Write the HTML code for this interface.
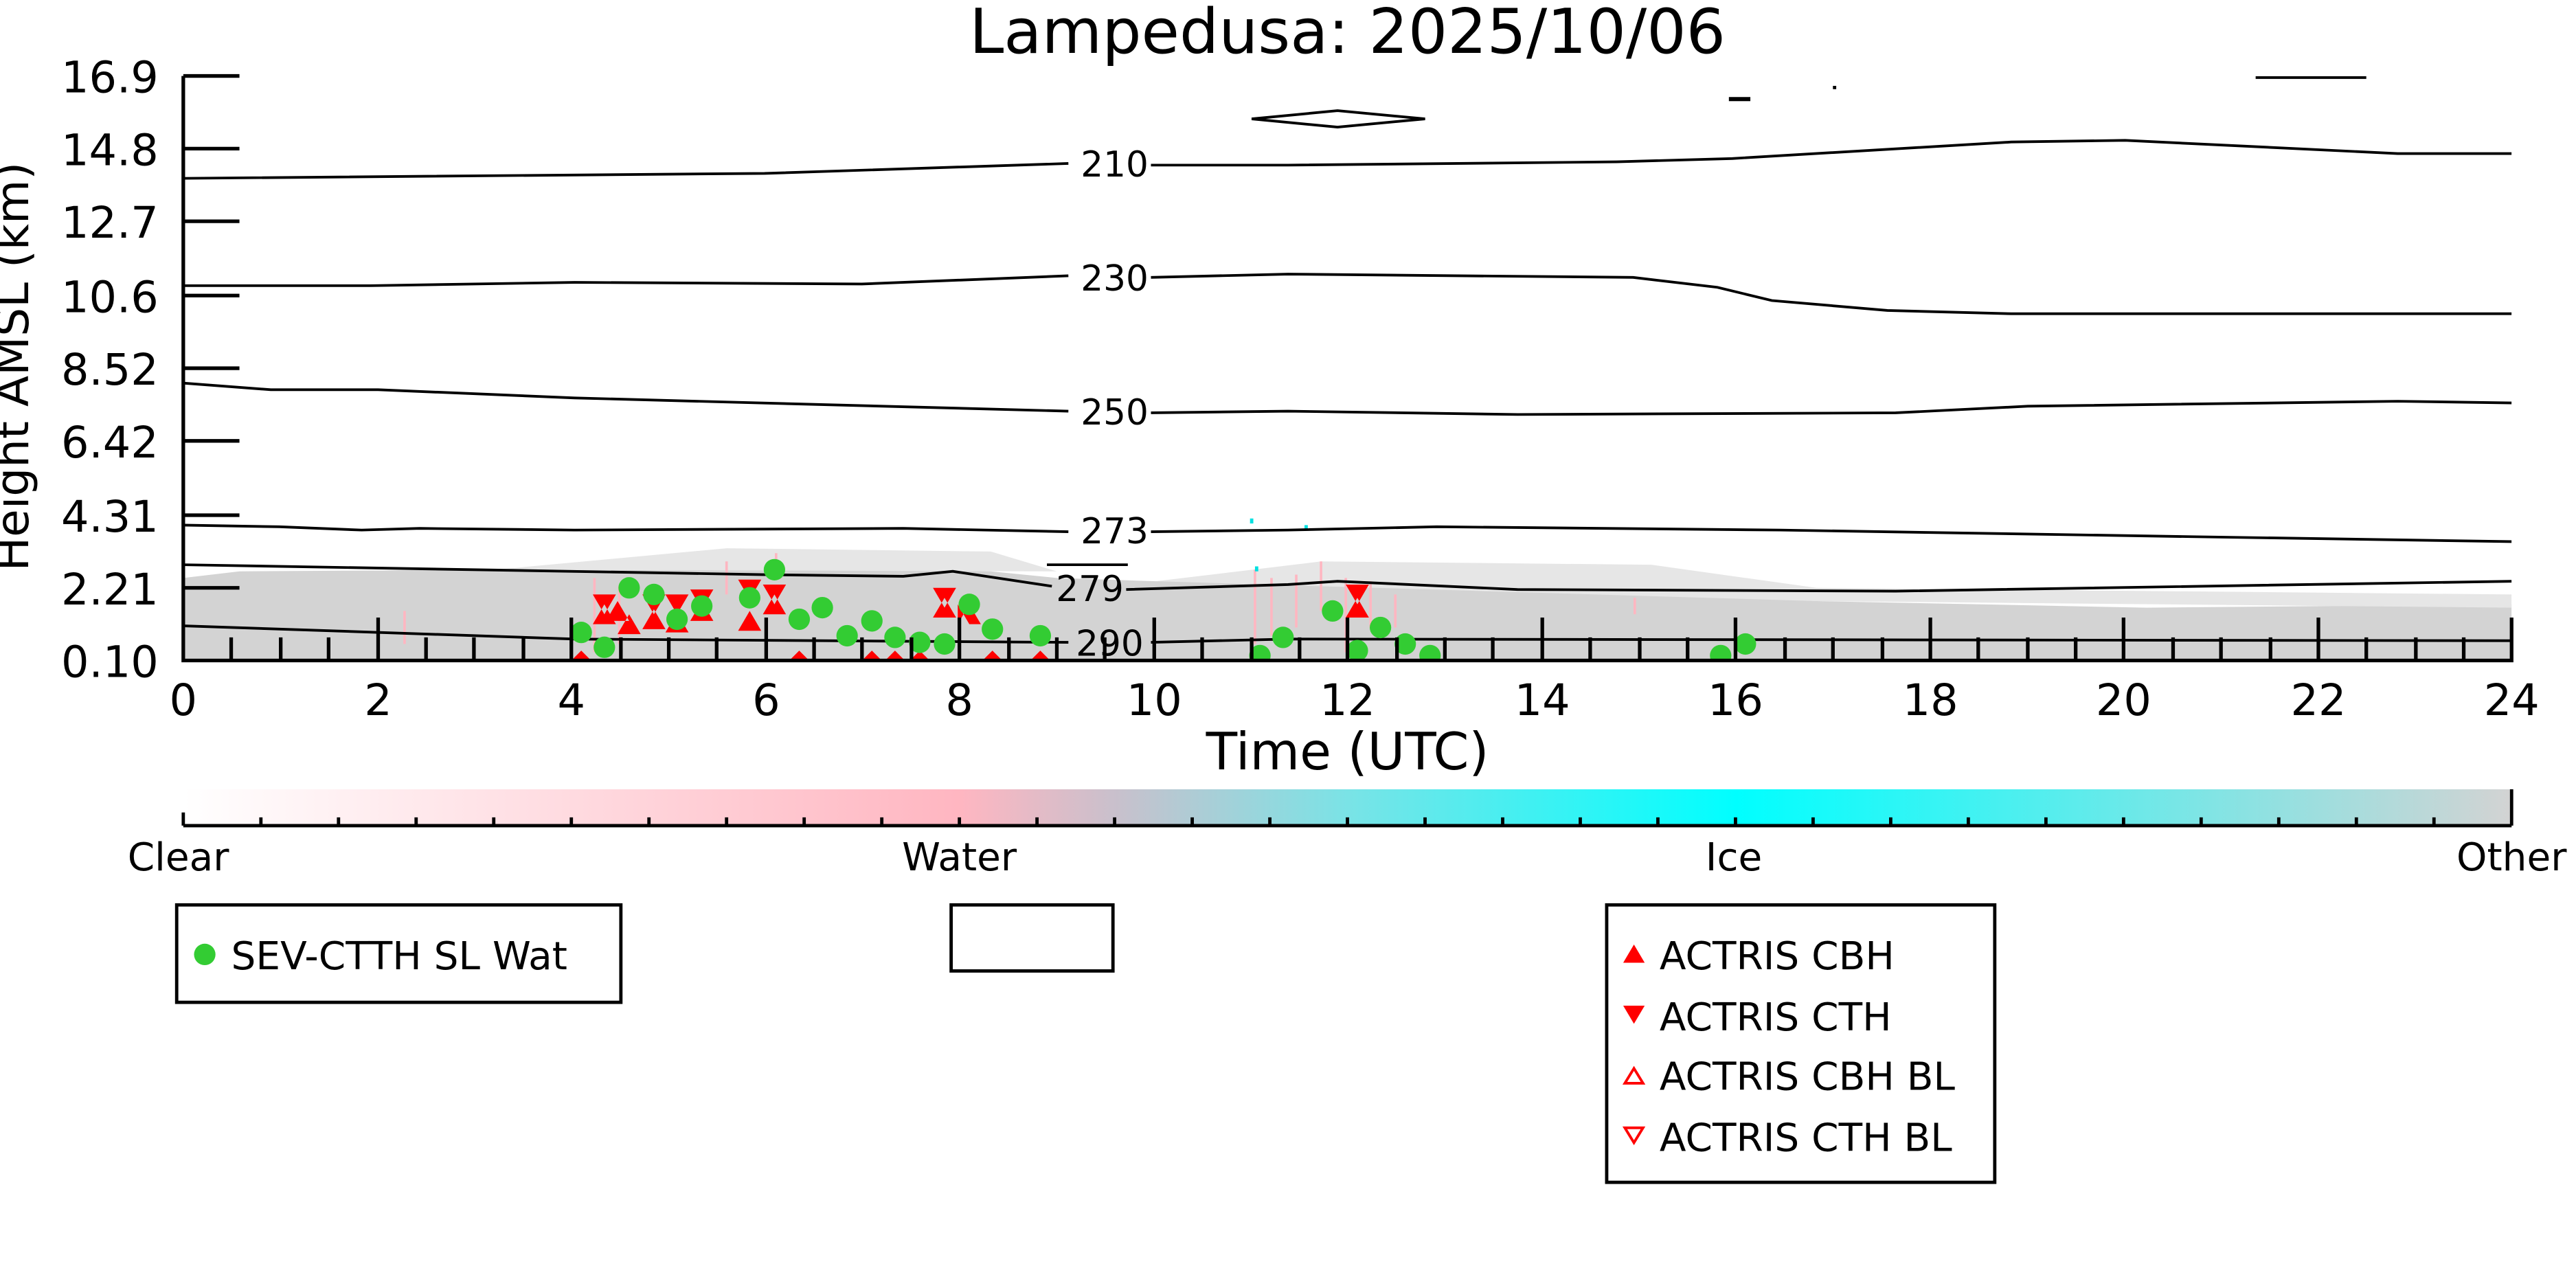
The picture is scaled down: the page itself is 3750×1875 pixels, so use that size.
<!DOCTYPE html>
<html><head><meta charset="utf-8"><style>html,body{margin:0;padding:0;background:#fff}svg{display:block}</style></head><body>
<svg width="3750" height="1875" viewBox="0 0 1560 780" preserveAspectRatio="none" xmlns="http://www.w3.org/2000/svg" font-family="'DejaVu Sans','Liberation Sans',sans-serif">
<defs>
<linearGradient id="cb" x1="0" x2="1" y1="0" y2="0">
<stop offset="0" stop-color="#ffffff"/><stop offset="0.333" stop-color="#ffb6c1"/><stop offset="0.4" stop-color="#c9c0cc"/><stop offset="0.5" stop-color="#7ae3e6"/><stop offset="0.667" stop-color="#00ffff"/><stop offset="1" stop-color="#d3d3d3"/>
</linearGradient>
<clipPath id="pc"><rect x="111" y="46" width="1410" height="354"/></clipPath>
</defs>
<text x="816" y="32" font-size="37.5" text-anchor="middle">Lampedusa: 2025/10/06</text>
<g clip-path="url(#pc)">
<path d="M111,400 L111,350 L145,346 L300,345 L450,344 L600,346 L640,350 L700,352 L760,350 L820,352 L900,356 L1000,358 L1100,364 L1300,368 L1521,366 L1521,400 Z" fill="#d3d3d3"/>
<path d="M300,345 L440,332 L600,334 L640,346 Z" fill="#e6e6e6"/>
<path d="M700,352 L800,340 L1000,342 L1100,356 L1521,360 L1521,368 L1100,364 Z" fill="#e6e6e6"/>
<g stroke="#ffb6c1" stroke-width="1.5">
<path d="M245,370 V390 M360,350 V395 M375,355 V390 M440,340 V360 M470,335 V345 M760,345 V390 M770,350 V385 M785,348 V380 M800,340 V370 M815,350 V395 M830,352 V380 M845,360 V380 M990,362 V372"/>
</g>
<g fill="#00e0e0"><rect x="757" y="314" width="2" height="3"/><rect x="790" y="318" width="2" height="3"/><rect x="760" y="343" width="2" height="3"/></g>
<g fill="none" stroke="#000" stroke-width="1.6">
<path d="M111,108 L463,105 L647,99"/><path d="M697,100 L780,100 L979,98 L1049,96 L1218,86 L1287,85 L1452,93 L1521,93"/>
<path d="M111,173 L224,173 L348,171 L522,172 L647,167"/><path d="M697,168 L780,166 L989,168 L1040,174 L1073,182 L1143,188 L1218,190 L1521,190"/>
<path d="M111,232 L164,236 L229,236 L348,241 L647,249"/><path d="M697,250 L780,249 L919,251 L1148,250 L1228,246 L1452,243 L1521,244"/>
<path d="M111,318 L169,319 L219,321 L254,320 L348,321 L547,320 L647,322"/><path d="M697,322 L780,321 L870,319 L1078,321 L1327,325 L1521,328"/>
<path d="M111,342 L463,348 L547,349 L577,346 L637,355"/><path d="M682,357 L780,354 L810,352 L919,357 L1148,358 L1521,352"/>
<path d="M634,342 L683,342"/>
<path d="M111,379 L348,387 L647,389"/><path d="M697,389 L780,387 L1521,388"/>
<path d="M758,72 L810,67 L863,72 L810,77 Z"/>
<path d="M1366,47 L1433,47"/><path d="M1047,60 L1060,60" stroke-width="2.5"/>
</g>
<rect x="1110" y="52" width="2" height="2" fill="#000"/>
<g font-size="21.5" text-anchor="middle">
<text x="675" y="107">210</text><text x="675" y="176">230</text><text x="675" y="257">250</text><text x="675" y="329">273</text><text x="660" y="364">279</text><text x="672" y="397">290</text>
</g>
<g fill="#ff0000">
<path d="M359,360 h14 l-7,12 Z M359,378 h14 l-7,-12 Z"/>
<path d="M374,364 l7,12 h-14 Z M374,384 h14 l-7,-12 Z"/>
<path d="M389,360 h14 l-7,12 Z M389,381 h14 l-7,-12 Z"/>
<path d="M403,360 h14 l-7,12 Z M403,383 h14 l-7,-12 Z"/>
<path d="M418,357 h14 l-7,12 Z M418,376 h14 l-7,-12 Z"/>
<path d="M447,351 h14 l-7,12 Z M447,382 h14 l-7,-12 Z"/>
<path d="M462,354 h14 l-7,12 Z M462,372 h14 l-7,-12 Z"/>
<path d="M565,356 h14 l-7,12 Z M565,374 h14 l-7,-12 Z"/>
<path d="M580,366 l7,12 h-7 Z M580,378 h14 l-7,-12 Z"/>
<path d="M815,354 h14 l-7,12 Z M815,374 h14 l-7,-12 Z"/>
<path d="M346,400 h12 l-6,-6 Z M478,400 h12 l-6,-6 Z M522,400 h12 l-6,-6 Z M536,400 h12 l-6,-6 Z M551,400 h12 l-6,-6 Z M595,400 h12 l-6,-6 Z M624,400 h12 l-6,-6 Z"/>
</g>
<g fill="#33cc33">
<circle cx="352" cy="383" r="6.5"/><circle cx="366" cy="392" r="6.5"/><circle cx="381" cy="356" r="6.5"/><circle cx="396" cy="360" r="6.5"/><circle cx="410" cy="375" r="6.5"/><circle cx="425" cy="367" r="6.5"/><circle cx="454" cy="362" r="6.5"/><circle cx="469" cy="345" r="6.5"/><circle cx="484" cy="375" r="6.5"/><circle cx="498" cy="368" r="6.5"/><circle cx="513" cy="385" r="6.5"/><circle cx="528" cy="376" r="6.5"/><circle cx="542" cy="386" r="6.5"/><circle cx="557" cy="389" r="6.5"/><circle cx="572" cy="390" r="6.5"/><circle cx="587" cy="366" r="6.5"/><circle cx="601" cy="381" r="6.5"/><circle cx="630" cy="385" r="6.5"/><circle cx="763" cy="397" r="6.5"/><circle cx="777" cy="386" r="6.5"/><circle cx="807" cy="370" r="6.5"/><circle cx="822" cy="394" r="6.5"/><circle cx="836" cy="380" r="6.5"/><circle cx="851" cy="390" r="6.5"/><circle cx="866" cy="397" r="6.5"/><circle cx="1042" cy="397" r="6.5"/><circle cx="1057" cy="390" r="6.5"/>
</g>
</g>
<g stroke="#000" stroke-width="2.2" fill="none">
<path d="M111,46 V400 H1521 V374"/>
<path d="M111,46 H145 M111,90 H145 M111,134 H145 M111,179 H145 M111,223 H145 M111,267 H145 M111,312 H145 M111,356 H145"/>
<path d="M229,400 V374 M346,400 V374 M464,400 V374 M581,400 V374 M699,400 V374 M816,400 V374 M934,400 V374 M1051,400 V374 M1169,400 V374 M1286,400 V374 M1404,400 V374"/>
<path d="M140,400 V386 M170,400 V386 M199,400 V386 M258,400 V386 M287,400 V386 M317,400 V386 M376,400 V386 M405,400 V386 M434,400 V386 M493,400 V386 M522,400 V386 M552,400 V386 M611,400 V386 M640,400 V386 M669,400 V386 M728,400 V386 M758,400 V386 M787,400 V386 M846,400 V386 M875,400 V386 M904,400 V386 M963,400 V386 M993,400 V386 M1022,400 V386 M1081,400 V386 M1110,400 V386 M1140,400 V386 M1198,400 V386 M1228,400 V386 M1257,400 V386 M1316,400 V386 M1345,400 V386 M1375,400 V386 M1433,400 V386 M1463,400 V386 M1492,400 V386"/>
</g>
<g font-size="26.5" text-anchor="end">
<text x="96" y="56">16.9</text><text x="96" y="100">14.8</text><text x="96" y="144">12.7</text><text x="96" y="189">10.6</text><text x="96" y="233">8.52</text><text x="96" y="277">6.42</text><text x="96" y="322">4.31</text><text x="96" y="366">2.21</text><text x="96" y="410">0.10</text>
</g>
<g font-size="26.5" text-anchor="middle">
<text x="111" y="433">0</text><text x="229" y="433">2</text><text x="346" y="433">4</text><text x="464" y="433">6</text><text x="581" y="433">8</text><text x="699" y="433">10</text><text x="816" y="433">12</text><text x="934" y="433">14</text><text x="1051" y="433">16</text><text x="1169" y="433">18</text><text x="1286" y="433">20</text><text x="1404" y="433">22</text><text x="1521" y="433">24</text>
</g>
<text x="816" y="466" font-size="31" text-anchor="middle">Time (UTC)</text>
<text transform="translate(17,222) rotate(-90)" font-size="27.5" text-anchor="middle">Height AMSL (km)</text>
<rect x="111" y="478" width="1410" height="22" fill="url(#cb)"/>
<g stroke="#000" stroke-width="2" fill="none">
<path d="M111,500 H1521 M111,500 V492 M1521,500 V478"/>
<path d="M158,500 V495 M205,500 V495 M252,500 V495 M299,500 V495 M346,500 V495 M393,500 V495 M440,500 V495 M487,500 V495 M534,500 V495 M581,500 V495 M628,500 V495 M675,500 V495 M722,500 V495 M769,500 V495 M816,500 V495 M863,500 V495 M910,500 V495 M957,500 V495 M1004,500 V495 M1051,500 V495 M1098,500 V495 M1145,500 V495 M1192,500 V495 M1239,500 V495 M1286,500 V495 M1333,500 V495 M1380,500 V495 M1427,500 V495 M1474,500 V495"/>
</g>
<g font-size="23.5" text-anchor="middle">
<text x="108" y="527">Clear</text><text x="581" y="527">Water</text><text x="1050" y="527">Ice</text><text x="1521" y="527">Other</text>
</g>
<g fill="none" stroke="#000" stroke-width="2">
<rect x="107" y="548" width="269" height="59"/>
<rect x="576" y="548" width="98" height="40"/>
<rect x="973" y="548" width="235" height="168"/>
</g>
<circle cx="124" cy="578" r="6.5" fill="#33cc33"/>
<g font-size="23.5">
<text x="140" y="587">SEV-CTTH SL Wat</text>
<text x="1005" y="587">ACTRIS CBH</text>
<text x="1005" y="624">ACTRIS CTH</text>
<text x="1005" y="660">ACTRIS CBH BL</text>
<text x="1005" y="697">ACTRIS CTH BL</text>
</g>
<path d="M983,583 h13 l-6.5,-11 Z M983,609 h13 l-6.5,11 Z" fill="#ff0000"/>
<path d="M984,656 h11 l-5.5,-9 Z M984,683 h11 l-5.5,9 Z" fill="none" stroke="#ff0000" stroke-width="1.6"/>
</svg>
</body></html>
